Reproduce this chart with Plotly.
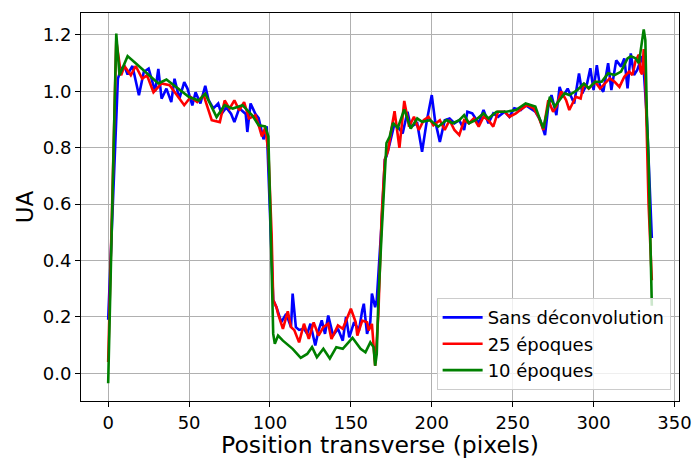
import plotly.graph_objects as go

# ---- data ----
blue_x = [0, 6, 8, 10, 12, 15, 19, 22, 25, 29, 31, 33, 36, 39, 41, 44, 47, 49, 52, 54, 57, 60, 62, 65, 68, 70, 73, 76, 78, 81, 85, 86, 88, 91, 93, 96, 98,
          100, 102, 104, 107, 110, 113, 114, 116, 118, 121, 123, 125, 128, 130, 132, 134, 136, 139, 142, 145, 147, 149, 152, 155, 157, 158, 160, 162, 163, 165, 166, 167,
          169, 171, 172, 174, 177, 179, 182, 185, 187, 191, 194, 197, 200, 202, 205, 208, 211, 214, 217, 220, 222, 225, 229, 232, 235, 238, 241, 245, 248, 251, 255, 258,
          261, 264, 267, 270, 272, 274, 277, 279, 281, 284, 288, 291, 293, 296, 298, 300, 302, 304, 306, 309, 311, 314, 317, 319, 321, 323, 325, 327, 330, 331, 333, 336]
blue_y = [0.19, 1.045, 1.08, 1.09, 1.06, 1.09, 0.986, 1.069, 1.081, 1.0, 1.08, 0.974, 1.01, 0.962, 1.045, 0.974, 1.033, 1.01, 0.95, 0.997, 0.957, 1.02, 0.97, 0.94, 0.957, 0.92, 0.943, 0.92, 0.891, 0.94, 0.92, 0.856, 0.957, 0.92, 0.905, 0.83, 0.876,
          0.556, 0.26, 0.235, 0.182, 0.211, 0.164, 0.283, 0.164, 0.154, 0.158, 0.14, 0.176, 0.099, 0.152, 0.188, 0.14, 0.205, 0.134, 0.158, 0.116, 0.2, 0.128, 0.182, 0.152, 0.223, 0.247, 0.14, 0.182, 0.283, 0.235, 0.26, 0.342,
          0.532, 0.758, 0.77, 0.815, 0.886, 0.875, 0.851, 0.928, 0.875, 0.887, 0.786, 0.898, 0.987, 0.898, 0.821, 0.898, 0.904, 0.887, 0.898, 0.863, 0.928, 0.922, 0.887, 0.934, 0.887, 0.922, 0.91, 0.928, 0.91, 0.94, 0.934, 0.951,
          0.94, 0.928, 0.898, 0.845, 0.946, 0.987, 0.916, 1.016, 0.981, 1.01, 0.957, 1.064, 0.993, 1.028, 1.082, 1.005, 1.093, 1.016, 0.999, 1.1, 1.005, 1.11, 1.088, 1.117, 1.011, 1.135, 1.058, 1.076, 1.125, 1.076, 0.9, 0.48]

red_x = [0, 5, 8, 10, 14, 17, 21, 24, 28, 33, 38, 43, 47, 51, 55, 59, 64, 69, 72, 75, 78, 81, 84, 87, 91, 93, 95, 97, 99,
         101, 102, 104, 105, 108, 111, 113, 115, 118, 121, 124, 127, 130, 133, 136, 138, 142, 145, 150, 153, 154, 157, 160, 161, 163, 165, 167,
         169, 171, 173, 175, 177, 180, 183, 186, 189, 192, 195, 198, 201, 205, 208, 211, 214, 217, 220, 223, 226, 229, 232, 235, 238, 241, 245, 248, 252, 256, 259,
         263, 266, 269, 272, 275, 277, 280, 283, 285, 289, 292, 294, 297, 301, 304, 307, 310, 313, 316, 319, 322, 324, 326, 328, 329, 330, 331, 332, 334, 336]
red_y = [0.04, 1.18, 1.057, 1.09, 1.057, 1.09, 1.045, 1.057, 0.997, 1.028, 1.022, 0.98, 0.951, 0.98, 0.962, 0.986, 0.898, 0.891, 0.968, 0.939, 0.968, 0.933, 0.962, 0.904, 0.915, 0.88, 0.84, 0.87, 0.79,
         0.496, 0.26, 0.235, 0.211, 0.158, 0.22, 0.164, 0.154, 0.11, 0.176, 0.122, 0.181, 0.134, 0.164, 0.176, 0.122, 0.17, 0.158, 0.229, 0.181, 0.134, 0.187, 0.181, 0.152, 0.176, 0.027, 0.211,
         0.556, 0.758, 0.79, 0.865, 0.93, 0.80, 0.966, 0.875, 0.91, 0.863, 0.898, 0.91, 0.88, 0.898, 0.863, 0.898, 0.863, 0.845, 0.898, 0.887, 0.904, 0.875, 0.91, 0.898, 0.875, 0.928, 0.928, 0.91, 0.922, 0.94, 0.951,
         0.94, 0.91, 0.863, 0.969, 0.928, 0.946, 1.0, 0.969, 0.934, 0.981, 0.975, 1.028, 1.01, 1.034, 1.01, 1.028, 1.046, 1.034, 1.016, 1.052, 1.07, 1.058, 1.11, 1.13, 1.07, 1.06, 1.15, 1.05, 0.6, 0.33]

green_x = [0, 5, 7, 12, 17, 24, 31, 36, 43, 50, 56, 60, 67, 72, 77, 83, 89, 93, 97, 99,
           100, 101, 102, 103, 105, 108, 114, 119, 123, 126, 129, 133, 137, 141, 145, 151, 156, 159, 162, 164, 165, 166, 167,
           169, 171, 172, 174, 176, 179, 183, 187, 191, 194, 199, 204, 209, 213, 217, 220, 223, 227, 232, 235, 240, 246, 252, 258,
           261, 264, 267, 269, 271, 273, 276, 279, 282, 285, 290, 294, 297, 301, 305, 309, 313, 317, 321, 323, 326, 328, 330, 331, 332, 333, 334, 336]
green_y = [-0.035, 1.205, 1.057, 1.125, 1.10, 1.063, 1.028, 1.042, 1.01, 0.98, 0.968, 0.992, 0.909, 0.951, 0.939, 0.951, 0.915, 0.88, 0.876, 0.84,
           0.615, 0.318, 0.14, 0.105, 0.134, 0.116, 0.087, 0.055, 0.069, 0.093, 0.057, 0.087, 0.053, 0.093, 0.087, 0.126, 0.087, 0.075, 0.11, 0.093, 0.027, 0.069, 0.259,
           0.496, 0.734, 0.817, 0.84, 0.888, 0.87, 0.936, 0.868, 0.904, 0.892, 0.898, 0.875, 0.898, 0.887, 0.898, 0.916, 0.887, 0.898, 0.922, 0.904, 0.928, 0.928, 0.934, 0.957,
           0.951, 0.946, 0.898, 0.869, 0.922, 0.981, 0.946, 0.969, 0.993, 0.987, 1.005, 1.028, 1.011, 1.034, 1.034, 1.064, 1.058, 1.07, 1.117, 1.125, 1.117, 1.10, 1.182, 1.22, 1.182, 0.90, 0.76, 0.24]

series_names = ["Sans déconvolution", "25 époques", "10 époques"]
series_colors = ["#0000ff", "#ff0000", "#008000"]

x_ticks = [0, 50, 100, 150, 200, 250, 300, 350]
y_ticks = [0.0, 0.2, 0.4, 0.6, 0.8, 1.0, 1.2]

FONT = "DejaVu Sans"

fig = go.Figure()
for xs, ys, name, col in zip([blue_x, red_x, green_x], [blue_y, red_y, green_y], series_names, series_colors):
    fig.add_trace(go.Scatter(x=xs, y=ys, mode="lines", name=name,
                             line=dict(color=col, width=2.6)))

axis_common = dict(showline=True, linecolor="black", linewidth=1.1, mirror=True,
                   ticks="outside", ticklen=5, tickwidth=1.1, tickcolor="black",
                   showgrid=True, gridcolor="#b0b0b0", gridwidth=1.1, zeroline=False,
                   automargin=False,
                   tickfont=dict(family=FONT, size=18, color="black"))

fig.update_layout(
    width=692, height=459,
    margin=dict(l=81, r=13, t=13, b=58),
    paper_bgcolor="white", plot_bgcolor="white",
    font=dict(family=FONT, color="black"),
    xaxis=dict(range=[-16.8, 352.8], tickvals=x_ticks,
               title=dict(text="Position transverse (pixels)", font=dict(family=FONT, size=23.5), standoff=9),
               **axis_common),
    yaxis=dict(range=[-0.098, 1.278], tickvals=y_ticks, tickformat=".1f",
               title=dict(text="UA", font=dict(family=FONT, size=23), standoff=2),
               **axis_common),
    legend=dict(x=0.986, y=0.028, xanchor="right", yanchor="bottom",
                bgcolor="rgba(255,255,255,0.8)", bordercolor="#cccccc", borderwidth=1,
                itemwidth=40,
                font=dict(family=FONT, size=18, color="black")),
    showlegend=True,
)

fig.write_html("out.html", config={"displayModeBar": False},
               post_script="document.body.style.margin='0';document.body.style.overflow='hidden';")
